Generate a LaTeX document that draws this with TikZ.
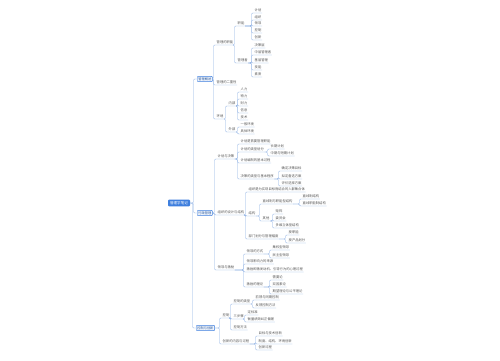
\documentclass[tikz,border=0pt]{standalone}
\usepackage{fontspec}
\newfontfamily\cjk{Noto Sans CJK SC}
\usetikzlibrary{calc}
\definecolor{lc}{HTML}{8DB0E4}
\definecolor{bc}{HTML}{3F7FDE}
\definecolor{tc}{HTML}{555555}
\definecolor{bf}{HTML}{EEF4FD}
\tikzset{
 conn/.style={draw=lc, line width=0.4pt, rounded corners=1.2pt},
 leaf/.style={anchor=south west, yshift=-2pt, inner xsep=0.5pt, inner ysep=0.7pt, font=\cjk\fontsize{3.3}{3.6}\selectfont, text=tc},
 lvone/.style={anchor=west, draw=bc, fill=bf, rounded corners=0.8pt, line width=0.4pt, inner xsep=1.2pt, inner ysep=1.2pt, font=\cjk\fontsize{3.2}{3.6}\selectfont, text=bc!70!black},
 rootbox/.style={fill=bc, text=white, rounded corners=0.8pt, inner xsep=2pt, inner ysep=1.6pt, font=\cjk\fontsize{3.6}{4}\selectfont},
}
\newcommand\ul[2]{\draw[conn] (#1) -| ($(#2.south west)+(-2.5,0)$) -- (#2.south west) -- (#2.south east);}
\newcommand\bx[2]{\draw[conn] (#1) -| ($(#2.west)+(-3.5,0)$) -- (#2.west);}
\begin{document}
\begin{tikzpicture}[x=1pt,y=-1pt]
\fill[white] (0,0) rectangle (500,360);
\path[use as bounding box] (0,0) rectangle (500,360);
% root and level 1
\node[rootbox] (r) at (179,203) {管理学笔记};
\node[lvone] (A) at (197,79) {管理概述};
\node[lvone] (B) at (197,213) {行政管理};
\node[lvone] (C) at (196,328) {控制与创新};
\bx{r.east}{A}\bx{r.east}{B}\bx{r.east}{C}
% branch A
\node[leaf] (A1) at (216,43) {管理的职能};
\node[leaf] (A2) at (216,83) {管理的二重性};
\node[leaf] (A3) at (216,117) {环境};
\ul{A.east}{A1}\ul{A.east}{A2}\ul{A.east}{A3}
\node[leaf] (A1a) at (237,24) {职能};
\node[leaf] (A1b) at (237,61) {管理者};
\ul{A1.south east}{A1a}\ul{A1.south east}{A1b}
\node[leaf] (A1a1) at (254,11) {计划};
\node[leaf] (A1a2) at (254,18) {组织};
\node[leaf] (A1a3) at (254,24) {领导};
\node[leaf] (A1a4) at (254,31) {控制};
\node[leaf] (A1a5) at (254,38) {创新};
\foreach \n in {1,...,5}{\ul{A1a.south east}{A1a\n}}
\node[leaf] (A1b1) at (254,46) {决策层};
\node[leaf] (A1b2) at (254,53) {中层管理者};
\node[leaf] (A1b3) at (254,61) {基层管理};
\node[leaf] (A1b4) at (254,68) {技能};
\node[leaf] (A1b5) at (254,75) {素质};
\foreach \n in {1,...,5}{\ul{A1b.south east}{A1b\n}}
\node[leaf] (A3a) at (228,104) {内部};
\node[leaf] (A3b) at (228,130) {外部};
\ul{A3.south east}{A3a}\ul{A3.south east}{A3b}
\node[leaf] (A3a1) at (240,90) {人力};
\node[leaf] (A3a2) at (240,97) {物力};
\node[leaf] (A3a3) at (240,104) {财力};
\node[leaf] (A3a4) at (240,111) {信息};
\node[leaf] (A3a5) at (240,118) {技术};
\foreach \n in {1,...,5}{\ul{A3a.south east}{A3a\n}}
\node[leaf] (A3b1) at (240,125) {一般环境};
\node[leaf] (A3b2) at (240,132) {具体环境};
\ul{A3b.south east}{A3b1}\ul{A3b.south east}{A3b2}
% branch B
\node[leaf] (B1) at (217,157) {计划与决策};
\node[leaf] (B2) at (217,213) {组织的设计与结构};
\node[leaf] (B3) at (217,268) {领导与激励};
\ul{B.east}{B1}\ul{B.east}{B2}\ul{B.east}{B3}
\node[leaf] (B1a) at (240,142) {计划是首要管理职能};
\node[leaf] (B1b) at (240,150) {计划的类型划分};
\node[leaf] (B1c) at (240,161) {计划编制的基本过程};
\node[leaf] (B1d) at (240,177) {决策的类型与基本程序};
\ul{B1.south east}{B1a}\ul{B1.south east}{B1b}\ul{B1.south east}{B1c}\ul{B1.south east}{B1d}
\node[leaf] (B1b1) at (270,147) {长期计划};
\node[leaf] (B1b2) at (270,154) {中期与短期计划};
\ul{B1b.south east}{B1b1}\ul{B1b.south east}{B1b2}
\node[leaf] (B1d1) at (281,169) {确定决策目标};
\node[leaf] (B1d2) at (281,177) {拟定备选方案};
\node[leaf] (B1d3) at (281,184) {评价选择方案};
\ul{B1d.south east}{B1d1}\ul{B1d.south east}{B1d2}\ul{B1d.south east}{B1d3}
\node[leaf] (B2a) at (248,190) {组织是为实现目标而结合的人群集合体};
\node[leaf] (B2b) at (248,214) {结构};
\node[leaf] (B2c) at (248,237) {部门划分与管理幅度};
\ul{B2.south east}{B2a}\ul{B2.south east}{B2b}\ul{B2.south east}{B2c}
\node[leaf] (B2b1) at (262,202) {直线制与职能型结构};
\node[leaf] (B2b2) at (262,219) {其他};
\ul{B2b.south east}{B2b1}\ul{B2b.south east}{B2b2}
\node[leaf] (B2b1a) at (302,197) {直线制结构};
\node[leaf] (B2b1b) at (302,204) {直线职能制结构};
\ul{B2b1.south east}{B2b1a}\ul{B2b1.south east}{B2b1b}
\node[leaf] (B2b2a) at (275,212) {矩阵};
\node[leaf] (B2b2b) at (275,219) {委员会};
\node[leaf] (B2b2c) at (275,226) {多维立体型结构};
\ul{B2b2.south east}{B2b2a}\ul{B2b2.south east}{B2b2b}\ul{B2b2.south east}{B2b2c}
\node[leaf] (B2c1) at (288,233) {按职能};
\node[leaf] (B2c2) at (288,241) {按产品划分};
\ul{B2c.south east}{B2c1}\ul{B2c.south east}{B2c2}
\node[leaf] (B3a) at (246,252) {领导的方式};
\node[leaf] (B3b) at (246,262) {领导影响力的来源};
\node[leaf] (B3c) at (246,270) {激励即激发动机、引导行为的心理过程};
\node[leaf] (B3d) at (246,285) {激励的理论};
\ul{B3.south east}{B3a}\ul{B3.south east}{B3b}\ul{B3.south east}{B3c}\ul{B3.south east}{B3d}
\node[leaf] (B3a1) at (272,248) {集权型领导};
\node[leaf] (B3a2) at (272,256) {民主型领导};
\ul{B3a.south east}{B3a1}\ul{B3a.south east}{B3a2}
\node[leaf] (B3d1) at (272,278) {需要论};
\node[leaf] (B3d2) at (272,285) {双因素论};
\node[leaf] (B3d3) at (272,292) {期望理论与公平理论};
\ul{B3d.south east}{B3d1}\ul{B3d.south east}{B3d2}\ul{B3d.south east}{B3d3}
% branch C
\node[leaf] (C1) at (222,316) {控制};
\node[leaf] (C2) at (222,342) {创新的内容与过程};
\ul{C.east}{C1}\ul{C.east}{C2}
\node[leaf] (C1a) at (233,302) {控制的类型};
\node[leaf] (C1b) at (233,317) {三步骤};
\node[leaf] (C1c) at (233,328) {控制方法};
\ul{C1.south east}{C1a}\ul{C1.south east}{C1b}\ul{C1.south east}{C1c}
\node[leaf] (C1a1) at (255,298) {前馈与同期控制};
\node[leaf] (C1a2) at (255,306) {反馈控制方法};
\ul{C1a.south east}{C1a1}\ul{C1a.south east}{C1a2}
\node[leaf] (C1b1) at (247,313) {定标准};
\node[leaf] (C1b2) at (247,320) {衡量绩效纠正偏差};
\ul{C1b.south east}{C1b1}\ul{C1b.south east}{C1b2}
\node[leaf] (C21) at (258,334) {目标与技术创新};
\node[leaf] (C22) at (258,342) {制度、结构、环境创新};
\node[leaf] (C23) at (258,348) {创新过程};
\ul{C2.south east}{C21}\ul{C2.south east}{C22}\ul{C2.south east}{C23}
\end{tikzpicture}
\end{document}
